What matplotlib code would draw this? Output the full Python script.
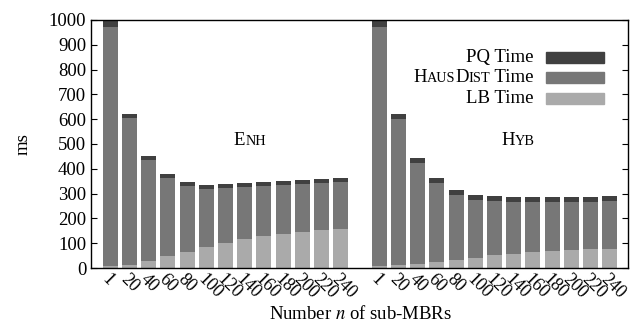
import matplotlib
matplotlib.use('Agg')
import matplotlib.pyplot as plt
import numpy as np
from matplotlib.transforms import IdentityTransform

plt.rcParams['font.family'] = ['Liberation Serif', 'DejaVu Serif']

n_labels = ['1', '20', '40', '60', '80', '100', '120', '140', '160', '180', '200', '220', '240']

# Enh
enh_lb = [8, 12, 29, 48, 65, 85, 101, 117, 129, 137, 145, 153, 157]
enh_haus = [965, 593, 406, 315, 266, 234, 222, 210, 202, 198, 194, 190, 190]
enh_pq = [30, 16, 17, 16, 16, 16, 16, 16, 16, 16, 16, 16, 16]

# Hyb
hyb_lb = [8, 12, 16, 24, 32, 40, 52, 56, 65, 69, 73, 77, 77]
hyb_haus = [964, 589, 407, 319, 262, 234, 218, 210, 201, 197, 193, 189, 193]
hyb_pq = [30, 20, 21, 20, 21, 20, 20, 20, 20, 20, 20, 20, 20]

c_pq = '#404040'
c_haus = '#777777'
c_lb = '#aaaaaa'

fig = plt.figure(figsize=(6.31, 3.22), dpi=100)
ax = fig.add_axes([0.1442, 0.1677, 0.8510, 0.7702])


def smallcaps(fig, x, y, s, size, ha='left', ratio=0.76):
    # x, y in figure pixels; text inside {} gets upper-cased and shrunk
    runs = []
    small = False
    buf = ''
    for ch in s:
        if ch in '{}':
            if buf:
                runs.append((buf, small))
            buf = ''
            small = ch == '{'
        else:
            buf += ch
    if buf:
        runs.append((buf, small))
    r = fig.canvas.get_renderer()
    texts = []
    total = 0
    for txt, sm in runs:
        t = fig.text(0, y, txt.upper() if sm else txt,
                     fontsize=size * ratio if sm else size,
                     transform=IdentityTransform(), va='baseline', ha='left')
        wd = t.get_window_extent(r).width
        texts.append((t, wd))
        total += wd
    if ha == 'right':
        x0 = x - total
    elif ha == 'center':
        x0 = x - total / 2
    else:
        x0 = x
    for t, wd in texts:
        t.set_x(x0)
        x0 += wd


pos_enh = np.arange(13)
pos_hyb = np.arange(13) + 14
w = 0.78

for pos, lb, haus, pq in [(pos_enh, enh_lb, enh_haus, enh_pq), (pos_hyb, hyb_lb, hyb_haus, hyb_pq)]:
    lb = np.array(lb)
    haus = np.array(haus)
    pq = np.array(pq)
    ax.bar(pos, lb, w, color=c_lb, linewidth=0)
    ax.bar(pos, haus, w, bottom=lb, color=c_haus, linewidth=0)
    ax.bar(pos, pq, w, bottom=lb + haus, color=c_pq, linewidth=0)

ax.set_xlim(-1.0, 26.95)
ax.set_ylim(0, 1000)
ax.set_yticks(range(0, 1001, 100))
ax.tick_params(axis='y', direction='in', length=4, right=True, labelsize=13.5, width=0.8)
ax.set_xticks(list(pos_enh) + list(pos_hyb))
ax.set_xticklabels(n_labels + n_labels, rotation=-45, ha='left', va='top',
                   rotation_mode='anchor', fontsize=13)
ax.tick_params(axis='x', length=0, pad=2)
for sp in ax.spines.values():
    sp.set_linewidth(1.0)

ax.set_ylabel('ms', fontsize=13.5, labelpad=12)
fig.text(361 / 631, 1 - 319 / 322, 'Number $n$ of sub-MBRs', ha='center', va='baseline', fontsize=13.5,
         math_fontfamily='stix')

# legend drawn by hand
H = 322
rows = [('PQ Time', c_pq, 57.5), ('H{aus}D{ist} Time', c_haus, 77.5), ('LB Time', c_lb, 98.5)]
fig.canvas.draw()
for label, col, yc in rows:
    fig.patches.append(plt.Rectangle((546, H - yc - 5.5), 58, 11, color=col,
                                     transform=IdentityTransform(), figure=fig))
    smallcaps(fig, 534, H - yc - 4.5, label, 13.5, ha='right')

smallcaps(fig, 250, H - 140 - 5, 'E{nh}', 13.5, ha='center')
smallcaps(fig, 518, H - 140 - 5, 'H{yb}', 13.5, ha='center')

fig.savefig('out.png', dpi=100)
